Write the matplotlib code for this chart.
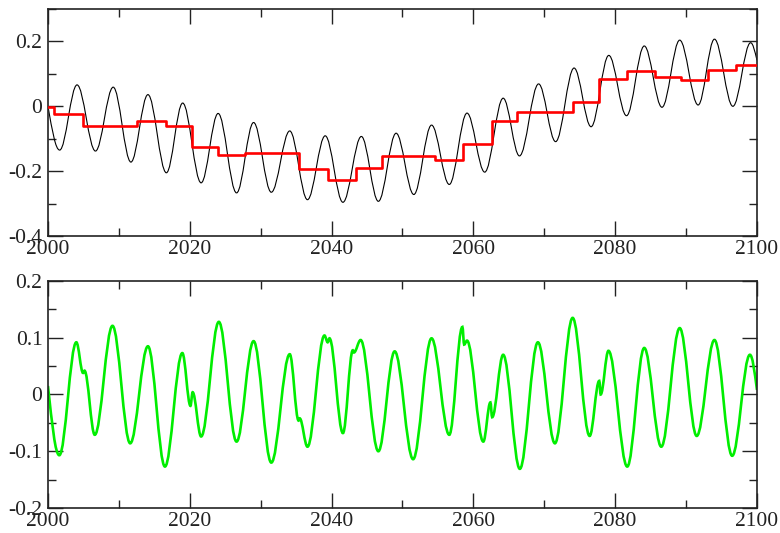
import numpy as np
import matplotlib
matplotlib.use("Agg")
import matplotlib.pyplot as plt
from matplotlib.path import Path
from matplotlib.patches import PathPatch
from matplotlib.ticker import MultipleLocator, FuncFormatter

# ---------------- data ----------------
# black oscillating series: start, successive extrema, end
black_x = [2000, 2001.65, 2004.1, 2006.7, 2009.2, 2011.7, 2014.1, 2016.7, 2019.0,
           2021.6, 2024.0, 2026.6, 2029.0, 2031.5, 2034.1, 2036.6, 2039.1, 2041.6,
           2044.2, 2046.6, 2049.1, 2051.6, 2054.1, 2056.6, 2059.1, 2061.6, 2064.2,
           2066.5, 2069.2, 2071.6, 2074.2, 2076.6, 2079.1, 2081.6, 2084.1, 2086.6,
           2089.1, 2091.7, 2094.0, 2096.6, 2099.1, 2100]
black_y = [0.0, -0.135, 0.066, -0.138, 0.059, -0.172, 0.036, -0.205, 0.010,
           -0.236, -0.022, -0.267, -0.050, -0.265, -0.076, -0.288, -0.091, -0.296,
           -0.093, -0.293, -0.083, -0.272, -0.058, -0.241, -0.021, -0.203, 0.025,
           -0.153, 0.069, -0.109, 0.118, -0.063, 0.157, -0.029, 0.186, -0.003,
           0.204, 0.004, 0.207, 0.0, 0.196, 0.142]

# red step series: step edges and level of each step
red_edges = [2000, 2000.8, 2004.9, 2012.6, 2016.6, 2020.3, 2024.0, 2027.8, 2031.5,
             2035.4, 2039.5, 2043.4, 2047.1, 2054.6, 2058.5, 2062.6, 2066.2, 2074.0,
             2077.7, 2081.6, 2085.6, 2089.3, 2093.1, 2097.1, 2100]
red_levels = [-0.003, -0.024, -0.062, -0.045, -0.062, -0.127, -0.151, -0.143,
              -0.145, -0.193, -0.226, -0.190, -0.153, -0.167, -0.117, -0.045,
              -0.019, 0.012, 0.083, 0.109, 0.090, 0.080, 0.113, 0.126]

# green series: start, successive extrema (incl. small wiggles), end
green_x = [2000, 2001.6, 2004.0, 2004.95, 2005.15, 2006.6, 2009.1, 2011.6, 2014.1,
           2016.5, 2018.95, 2020.1, 2020.4, 2021.6, 2024.1, 2026.6, 2029.0, 2031.5,
           2034.1, 2035.35, 2035.5, 2036.6, 2039.0, 2039.45, 2039.7, 2041.6, 2043.0,
           2043.15, 2044.1, 2046.6, 2048.9, 2051.5, 2054.1, 2056.6, 2058.45, 2058.7,
           2059.1, 2061.4, 2062.4, 2062.65, 2064.2, 2066.55, 2069.1, 2071.5, 2074.0,
           2076.4, 2077.75, 2077.95, 2079.05, 2081.7, 2084.1, 2086.5, 2089.1, 2091.5,
           2094.0, 2096.5, 2099.0, 2100]
green_y = [0.015, -0.107, 0.092, 0.038, 0.042, -0.071, 0.121, -0.086, 0.085,
           -0.127, 0.073, -0.020, 0.004, -0.074, 0.128, -0.083, 0.094, -0.120,
           0.071, -0.046, -0.042, -0.092, 0.104, 0.092, 0.099, -0.068, 0.078,
           0.074, 0.096, -0.100, 0.076, -0.114, 0.099, -0.071, 0.119, 0.088,
           0.095, -0.083, -0.014, -0.040, 0.070, -0.131, 0.092, -0.086, 0.135,
           -0.073, 0.024, 0.000, 0.077, -0.127, 0.082, -0.092, 0.117, -0.073,
           0.096, -0.108, 0.070, 0.008]

x_ticks = [2000, 2020, 2040, 2060, 2080, 2100]


def smooth_path(xs, ys):
    """Smooth Bezier curve through extrema (horizontal tangents at interior points)."""
    n = len(xs)
    slopes = [0.0] * n
    slopes[0] = 1.5 * (ys[1] - ys[0]) / (xs[1] - xs[0])
    slopes[-1] = 1.5 * (ys[-1] - ys[-2]) / (xs[-1] - xs[-2])
    c = 1 - 2 / np.pi
    verts = [(xs[0], ys[0])]
    codes = [Path.MOVETO]
    for i in range(n - 1):
        dx = xs[i + 1] - xs[i]
        verts += [(xs[i] + c * dx, ys[i] + c * dx * slopes[i]),
                  (xs[i + 1] - c * dx, ys[i + 1] - c * dx * slopes[i + 1]),
                  (xs[i + 1], ys[i + 1])]
        codes += [Path.CURVE4] * 3
    return Path(verts, codes)


plt.rcParams['font.family'] = ['Liberation Serif', 'DejaVu Serif']

fig = plt.figure(figsize=(7.8, 5.33), dpi=100)
ax1 = fig.add_axes([0.0615, 0.5572, 0.909, 0.4259])
ax2 = fig.add_axes([0.0615, 0.0469, 0.909, 0.4259])

fmt = FuncFormatter(lambda v, p: ('%g' % round(v, 3)).replace('\u2212', '-'))

# top panel
ax1.add_patch(PathPatch(smooth_path(black_x, black_y), fill=False,
                        edgecolor='black', lw=0.8, zorder=2))
ax1.step(red_edges, red_levels + [red_levels[-1]], where='post',
         color='#ff0000', lw=1.9, zorder=3)
ax1.set_xlim(2000, 2100)
ax1.set_ylim(-0.4, 0.3)
ax1.yaxis.set_major_locator(MultipleLocator(0.2))
ax1.yaxis.set_minor_locator(MultipleLocator(0.1))

# bottom panel
ax2.add_patch(PathPatch(smooth_path(green_x, green_y), fill=False,
                        edgecolor='#00ee00', lw=1.9, zorder=2))
ax2.set_xlim(2000, 2100)
ax2.set_ylim(-0.2, 0.2)
ax2.yaxis.set_major_locator(MultipleLocator(0.1))
ax2.yaxis.set_minor_locator(MultipleLocator(0.05))

for ax in (ax1, ax2):
    ax.set_xticks(x_ticks)
    ax.xaxis.set_minor_locator(MultipleLocator(10))
    ax.yaxis.set_major_formatter(fmt)
    ax.tick_params(which='both', direction='in', top=True, right=True,
                   labelsize=15.5, colors='#222222')
    ax.tick_params(which='major', length=11, width=1.0)
    ax.tick_params(which='minor', length=5.5, width=1.0)
    ax.tick_params(axis='y', pad=4)
    ax.tick_params(axis='x', pad=3)
    for s in ax.spines.values():
        s.set_linewidth(1.2)
        s.set_color('#222222')

fig.savefig('out.png', dpi=100)
